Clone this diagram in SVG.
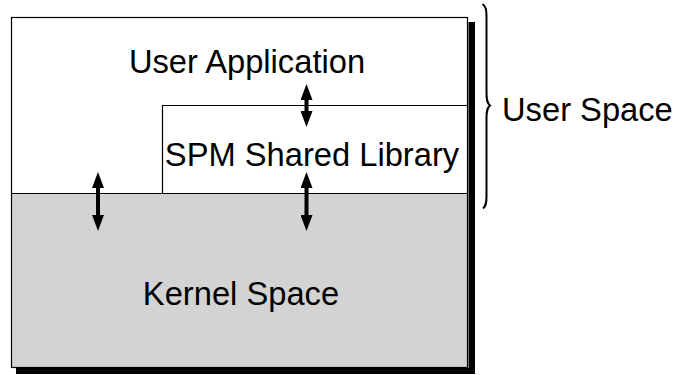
<svg xmlns="http://www.w3.org/2000/svg" width="678" height="375" viewBox="0 0 678 375">
  <defs>
    <marker id="head" markerUnits="userSpaceOnUse" markerWidth="16" markerHeight="12" refX="0" refY="6" orient="auto-start-reverse" viewBox="0 0 16 12">
      <path d="M0,0 L16,6 L0,12 z" fill="#000"/>
    </marker>
  </defs>
  <style>
    .lbl { font-family: "Liberation Sans", Arial, sans-serif; font-size: 32.7px; fill: #000; }
    .edge { stroke: #000; stroke-width: 4; fill: none; }
    .thin { stroke: #000; stroke-width: 1.2; fill: none; }
  </style>
  <rect width="678" height="375" fill="#fff"/>

  <!-- drop shadow of the outer frame -->
  <g id="shadow" fill="#000">
    <rect x="468.5" y="22" width="6.5" height="352"/>
    <rect x="16" y="368" width="459" height="6"/>
  </g>

  <!-- kernel space (lower gray region) -->
  <g id="kernel-space">
    <rect x="11.5" y="193.5" width="456" height="174" fill="#d3d3d3"/>
    <text class="lbl" x="241" y="304.5" text-anchor="middle">Kernel Space</text>
  </g>

  <!-- user application (upper region) -->
  <g id="user-application">
    <rect x="11.5" y="17.5" width="456" height="176" fill="#fff"/>
    <text class="lbl" x="247" y="73" text-anchor="middle">User Application</text>
  </g>

  <!-- SPM shared library box -->
  <g id="spm-shared-library">
    <path class="thin" d="M162.5,193.5 V105.5 H467.5"/>
    <text class="lbl" x="312" y="165.5" text-anchor="middle">SPM Shared Library</text>
  </g>

  <!-- frame outline and user/kernel boundary -->
  <g id="frame">
    <line class="thin" x1="11.5" y1="193.5" x2="467.5" y2="193.5"/>
    <rect class="thin" x="11.5" y="17.5" width="456" height="350"/>
  </g>

  <!-- user space brace and label -->
  <g id="user-space">
    <path d="M482.5,4 C486,6 486.5,10 486.5,18 L486.5,93 C486.5,100 487,103 490,105.5 C487,108 486.5,111 486.5,118 L486.5,196 C486.5,203 486,206 483,208.5" fill="none" stroke="#000" stroke-width="2"/>
    <text class="lbl" x="502" y="121">User Space</text>
  </g>

  <!-- two-way connectors -->
  <g id="connectors">
    <line class="edge" x1="98" y1="188" x2="98" y2="215" marker-start="url(#head)" marker-end="url(#head)"/>
    <line class="edge" x1="306.5" y1="100" x2="306.5" y2="111" marker-start="url(#head)" marker-end="url(#head)"/>
    <line class="edge" x1="306.5" y1="188" x2="306.5" y2="215" marker-start="url(#head)" marker-end="url(#head)"/>
  </g>
</svg>
